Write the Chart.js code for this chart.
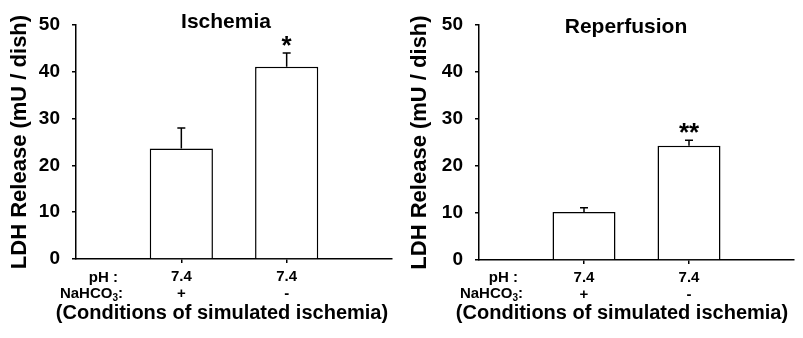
<!DOCTYPE html>
<html><head><meta charset="utf-8">
<script src="https://cdn.jsdelivr.net/npm/chart.js@4/dist/chart.umd.min.js"></script>
<style>
html,body{margin:0;padding:0;background:#fff;}
#wrap{position:relative;width:803px;height:338px;background:#fff;}
.panel{position:absolute;top:0;height:338px;}
</style></head><body>
<div id="wrap">
<div class="panel" style="left:0;width:400px"><canvas id="c1" width="400" height="338"></canvas></div>
<div class="panel" style="left:400px;width:403px"><canvas id="c2" width="403" height="338"></canvas></div>
</div>
<script>
// ---- data ----
const phValues = ['7.4', '7.4'];
const bicarbonate = ['+', '-'];
const ischemiaMeans = [23.6, 41.1];
const ischemiaErrors = [4.4, 2.9];
const ischemiaSig = ['', '*'];
const reperfusionMeans = [10.2, 24.3];
const reperfusionErrors = [0.9, 1.2];
const reperfusionSig = ['', '**'];
const yMin = 0, yMax = 50, yStep = 10;
const panelTitles = ['Ischemia', 'Reperfusion'];
const yAxisTitle = 'LDH Release (mU / dish)';
const xAxisTitle = '(Conditions of simulated ischemia)';
const rowHeaderPH = 'pH :';
const rowHeaderBicarb = ['NaHCO', '3', ':'];

const FONT = '"Liberation Sans", Arial, sans-serif';

function makePanel(canvasId, title, means, errs, sig, layout) {
  const labels = ['', ...phValues.map((p, i) => [p, bicarbonate[i]]), ''];
  const data = [null, ...means, null];
  const errors = [null, ...errs, null];
  const stars = ['', ...sig, ''];

  const annot = {
    id: 'annot',
    afterDatasetsDraw(chart) {
      const ctx = chart.ctx;
      const y = chart.scales.y;
      const meta = chart.getDatasetMeta(0);
      ctx.save();
      ctx.strokeStyle = '#000';
      ctx.fillStyle = '#000';
      ctx.lineWidth = 1.5;
      meta.data.forEach((bar, i) => {
        if (data[i] == null) return;
        const top = y.getPixelForValue(data[i] + errors[i]);
        ctx.beginPath();
        ctx.moveTo(bar.x, bar.y);
        ctx.lineTo(bar.x, top);
        ctx.moveTo(bar.x - 4, top);
        ctx.lineTo(bar.x + 4, top);
        ctx.stroke();
        if (stars[i]) {
          ctx.font = 'bold 26px ' + FONT;
          ctx.textAlign = 'center';
          ctx.textBaseline = 'alphabetic';
          ctx.fillText(stars[i], bar.x, top - 14 + 15);
        }
      });
      // panel title
      ctx.font = 'bold 21px ' + FONT;
      ctx.textAlign = 'center';
      ctx.textBaseline = 'alphabetic';
      ctx.fillText(title, layout.titleX, layout.titleY);
      // row headers
      ctx.font = 'bold 15px ' + FONT;
      ctx.textAlign = 'right';
      ctx.fillText(rowHeaderPH, layout.rowRight, 282);
      // NaHCO3:
      const base = 298;
      ctx.textAlign = 'left';
      ctx.font = 'bold 15px ' + FONT;
      const w1 = ctx.measureText(rowHeaderBicarb[0]).width;
      ctx.font = 'bold 10px ' + FONT;
      const w2 = ctx.measureText(rowHeaderBicarb[1]).width;
      ctx.font = 'bold 15px ' + FONT;
      const w3 = ctx.measureText(rowHeaderBicarb[2]).width;
      let x0 = layout.rowRight + 5 - (w1 + w2 + w3);
      ctx.fillText(rowHeaderBicarb[0], x0, base);
      ctx.font = 'bold 10px ' + FONT;
      ctx.fillText(rowHeaderBicarb[1], x0 + w1, base + 3);
      ctx.font = 'bold 15px ' + FONT;
      ctx.fillText(rowHeaderBicarb[2], x0 + w1 + w2, base);
      // x axis title
      ctx.font = 'bold 20px ' + FONT;
      ctx.textAlign = 'center';
      ctx.fillText(xAxisTitle, 222, 319);
      ctx.restore();
    }
  };

  return new Chart(document.getElementById(canvasId), {
    type: 'bar',
    data: {
      labels,
      datasets: [{
        data,
        backgroundColor: '#fff',
        borderColor: '#000',
        borderWidth: 1.5,
        borderSkipped: 'start',
        barPercentage: 0.6,
        categoryPercentage: 1.0
      }]
    },
    options: {
      responsive: false,
      animation: false,
      layout: { padding: { top: 25, right: layout.rightPad, left: 0, bottom: 0 } },
      plugins: { legend: { display: false }, tooltip: { enabled: false }, title: { display: false } },
      scales: {
        x: {
          type: 'category',
          offset: false,
          afterFit(s) { s.height = layout.xH; },
          grid: {
            offset: false,
            drawOnChartArea: false, drawTicks: true, tickLength: 4, lineWidth: 1.5,
            color: c => (c.index === 1 || c.index === 2) ? '#000' : 'rgba(0,0,0,0)'
          },
          border: { display: true, color: '#000', width: 1.5 },
          ticks: {
            color: '#000', padding: 6, maxRotation: 0, autoSkip: false,
            font: { family: FONT, size: 15, weight: 'bold', lineHeight: 1.1 }
          }
        },
        y: {
          min: yMin, max: yMax,
          afterFit(s) { s.width = layout.yW; },
          grid: { drawOnChartArea: false, drawTicks: true, tickLength: 4, color: '#000', lineWidth: 1.5 },
          border: { display: true, color: '#000', width: 1.5 },
          ticks: {
            stepSize: yStep, color: '#000', padding: 12,
            font: { family: FONT, size: 19, weight: 'bold' }
          },
          title: {
            display: true, text: yAxisTitle, color: '#000',
            padding: { top: 7, bottom: 0 },
            font: { family: FONT, size: 22, weight: 'bold' }
          }
        }
      }
    },
    plugins: [annot]
  });
}

makePanel('c1', panelTitles[0], ischemiaMeans, ischemiaErrors, ischemiaSig,
  { yW: 76, xH: 79, rightPad: 8, titleX: 226, titleY: 28, rowRight: 118 });
makePanel('c2', panelTitles[1], reperfusionMeans, reperfusionErrors, reperfusionSig,
  { yW: 79, xH: 78, rightPad: 9, titleX: 226, titleY: 33, rowRight: 118 });
</script>
</body></html>
